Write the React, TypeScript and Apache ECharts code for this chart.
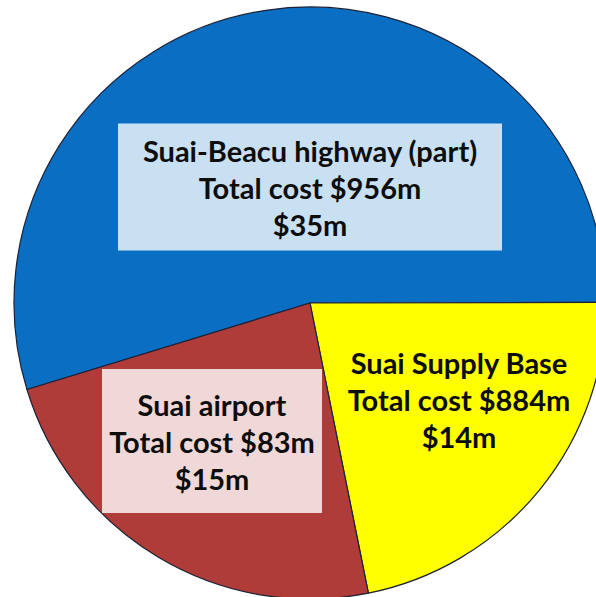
import React, { useEffect, useRef } from "react";
import * as echarts from "echarts";

const projects = ["Suai-Beacu highway (part)", "Suai Supply Base", "Suai airport"];
const totalCosts = [956, 884, 83];
const spending = [35, 14, 15];
const sliceColors = ["#0A6FC2", "#FFFF00", "#B03C3A"];

export default function App() {
  const ref = useRef<HTMLDivElement>(null);
  useEffect(() => {
    if (!ref.current) return;
    const chart = echarts.init(ref.current, null, { renderer: "svg" });
    const labelBase = {
      show: true,
      position: "inside",
      fontFamily: "Lato, 'Noto Sans', sans-serif",
      fontWeight: "bold",
      fontSize: 29,
      lineHeight: 37,
      color: "#0d0d0d",
      align: "center",
      verticalAlign: "middle",
    };
    const labelBoxes = [
      { width: 384, height: 111, padding: [8, 0], backgroundColor: "rgba(255,255,255,0.78)" },
      {},
      { width: 220, height: 112, padding: [16, 0], backgroundColor: "rgba(255,255,255,0.8)" },
    ];
    const labelPos = [
      [310, 187],
      [459, 399],
      [212, 441],
    ];
    const data = projects.map((name, i) => ({
      name,
      value: spending[i],
      itemStyle: { color: sliceColors[i] },
      label: { ...labelBase, ...labelBoxes[i] },
    }));
    chart.setOption({
      animation: false,
      series: [
        {
          type: "pie",
          center: [310, 303],
          radius: 296,
          startAngle: 197,
          clockwise: true,
          avoidLabelOverlap: false,
          labelLine: { show: false },
          itemStyle: { borderColor: "#1c2238", borderWidth: 1.2 },
          emphasis: { disabled: true },
          label: {
            ...labelBase,
            formatter: (p: any) =>
              `${p.name}\nTotal cost $${totalCosts[p.dataIndex]}m\n$${p.value}m`,
          },
          labelLayout: (p: any) => ({
            x: labelPos[p.dataIndex][0],
            y: labelPos[p.dataIndex][1],
            align: "center",
            verticalAlign: "middle",
          }),
          data,
        },
      ],
    });
    return () => chart.dispose();
  }, []);
  return (
    <div
      ref={ref}
      style={{ position: "fixed", left: 0, top: 0, width: 596, height: 597, background: "#ffffff" }}
    />
  );
}
